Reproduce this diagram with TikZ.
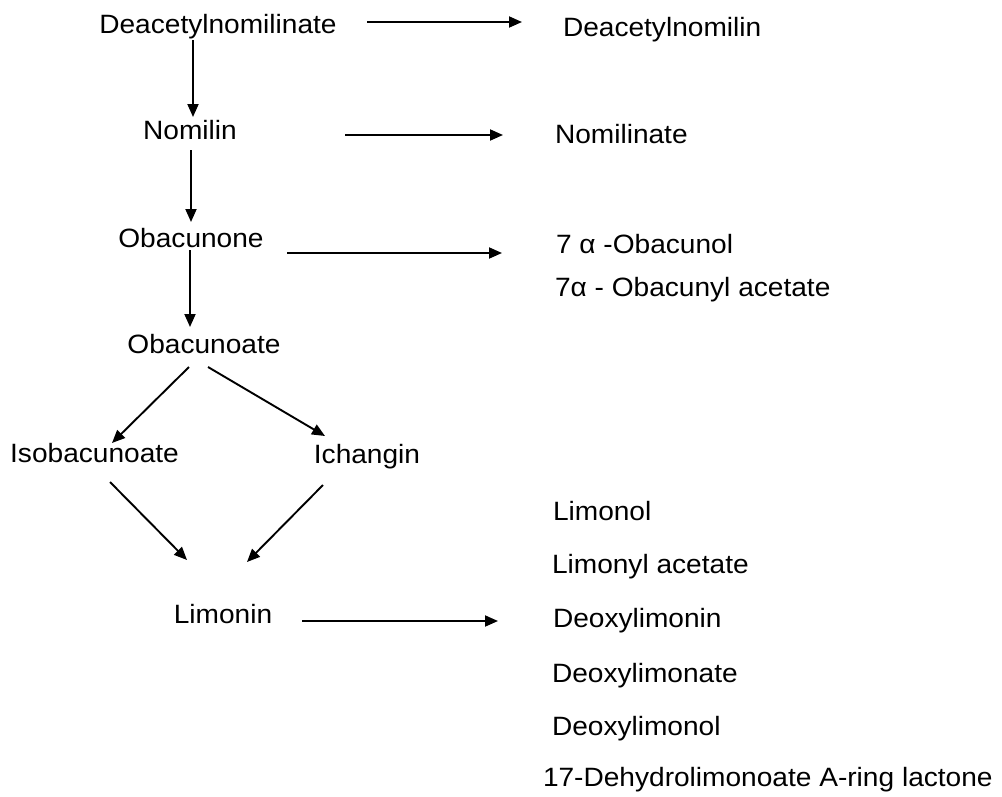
\documentclass[tikz,border=0pt]{standalone}
\usepackage{fontspec}
\setmainfont[FakeStretch=1.06]{Liberation Sans}
\usetikzlibrary{arrows.meta,calc}
\begin{document}
\begin{tikzpicture}[x=1pt,y=-1pt,
  lbl/.style={inner sep=0pt,outer sep=0pt,font=\fontsize{26.5}{30}\selectfont,text height=19pt,text depth=5.5pt},
  cl/.style={lbl,anchor=base},
  rl/.style={lbl,anchor=base west},
  arr/.style={line width=1.9pt,-{Triangle[length=13pt,width=11pt]}}]
\useasboundingbox (0,0) rectangle (1002,796);
% left column
\node[cl] (dn)  at (218,33)  {Deacetylnomilinate};
\node[cl] (nom) at (190,139) {Nomilin};
\node[cl] (obn) at (191,247) {Obacunone};
\node[cl] (oba) at (204,353) {Obacunoate};
\node[cl] (iso) at (94.5,462) {Isobacunoate};
\node[cl] (ich) at (367,463) {Ichangin};
\node[cl] (lim) at (223,623) {Limonin};
% right column
\node[rl] (dnl)  at (563,36)  {Deacetylnomilin};
\node[rl] (noml) at (555,143) {Nomilinate};
\node[rl] (obcl) at (556,253) {7 α -Obacunol};
\node[rl] (obal) at (555,296) {7α - Obacunyl acetate};
\node[rl] (limol) at (553,520) {Limonol};
\node[rl] (limac) at (552,573) {Limonyl acetate};
\node[rl] (dlin)  at (553,627) {Deoxylimonin};
\node[rl] (dlate) at (552,682) {Deoxylimonate};
\node[rl] (dlol)  at (552,735) {Deoxylimonol};
\node[rl] (dehy)  at (543,786) {17-Dehydrolimonoate A-ring lactone};
% horizontal arrows
\draw[arr] ($(dn.base)+(149,-11)$) -- ($(dnl.base west)+(-41,-14)$);
\draw[arr] ($(nom.base)+(155,-4)$) -- ($(noml.base west)+(-52,-8)$);
\draw[arr] ($(obn.base)+(96,6)$) -- ($(obcl.base west)+(-54,0)$);
\draw[arr] ($(lim.base)+(79,-2)$) -- ($(dlin.base west)+(-55,-6)$);
% vertical arrows
\draw[arr] ($(dn.base)+(-25,7)$) -- ($(nom.base)+(3,-22)$);
\draw[arr] ($(nom.base)+(1,11)$) -- ($(obn.base)+(0,-25)$);
\draw[arr] ($(obn.base)+(-1,3)$) -- ($(oba.base)+(-14,-26)$);
% diagonal arrows
\draw[arr] ($(oba.base)+(-15,14)$) -- ($(iso.base)+(17.5,-19)$);
\draw[arr] ($(oba.base)+(4,14)$) -- ($(ich.base)+(-42,-27)$);
\draw[arr] ($(iso.base)+(15.5,20)$) -- ($(lim.base)+(-36,-63)$);
\draw[arr] ($(ich.base)+(-44,22)$) -- ($(lim.base)+(24,-61)$);
\end{tikzpicture}
\end{document}
